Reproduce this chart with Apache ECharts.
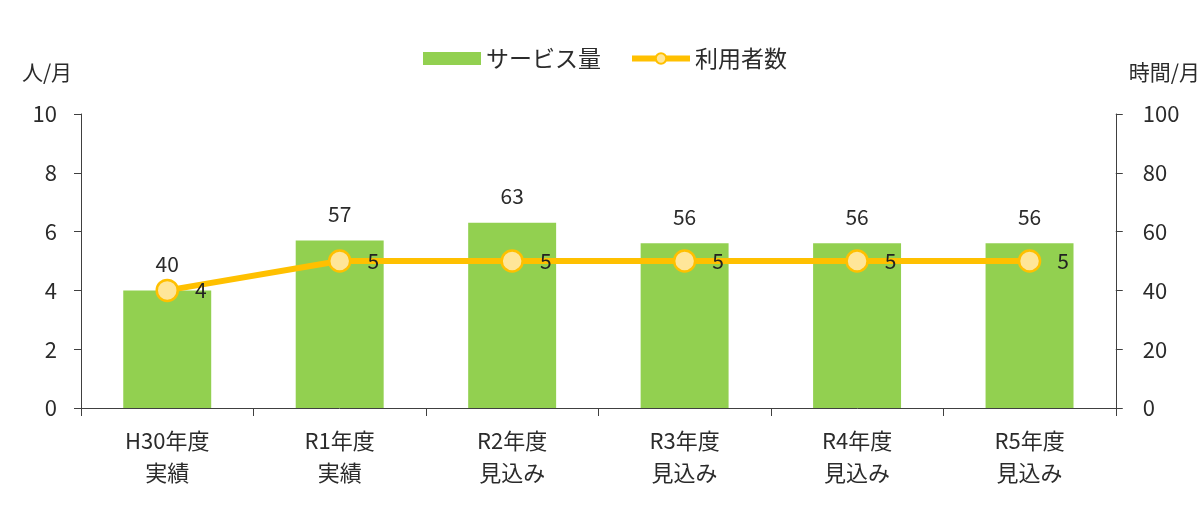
<!DOCTYPE html>
<html><head><meta charset="utf-8">
<script src="https://cdn.jsdelivr.net/npm/echarts@6/dist/echarts.min.js"></script>
<style>html,body{margin:0;padding:0;background:#fff}#c{width:1203px;height:507px}</style>
</head><body><div id="c"></div>
<script>
const categories = ['H30年度\n実績','R1年度\n実績','R2年度\n見込み','R3年度\n見込み','R4年度\n見込み','R5年度\n見込み'];
const serviceAmount = [40, 57, 63, 56, 56, 56];
const users = [4, 5, 5, 5, 5, 5];
const leftTicks = {min:0, max:10, interval:2};
const rightTicks = {min:0, max:100, interval:20};

const font = '"Noto Sans CJK JP", "Noto Sans", sans-serif';
const chart = echarts.init(document.getElementById('c'));
chart.setOption({
  backgroundColor:'#fff',
  textStyle:{fontFamily:font},
  legend:{
    top:42, left:418, itemWidth:58, itemHeight:13, itemGap:28,
    textStyle:{fontSize:23, color:'#2b2b2b', fontFamily:font},
    data:[{name:'サービス量', icon:'rect'},
          {name:'利用者数', lineStyle:{width:6, color:'#FFC000'}}]
  },
  grid:{left:81, right:86, top:114, bottom:99},
  xAxis:{
    type:'category', data:categories,
    axisLine:{lineStyle:{color:'#404040', width:1}},
    axisTick:{show:true, length:8, lineStyle:{color:'#404040'}},
    axisLabel:{fontSize:22, color:'#2b2b2b', lineHeight:32, margin:17, fontFamily:font}
  },
  yAxis:[{
    type:'value', min:leftTicks.min, max:leftTicks.max, interval:leftTicks.interval,
    name:'人/月', nameLocation:'end', nameGap:31,
    nameTextStyle:{fontSize:21, color:'#2b2b2b', align:'center', padding:[0,68,0,0], fontFamily:font},
    axisLine:{show:true, lineStyle:{color:'#404040'}},
    axisTick:{show:true, length:7, lineStyle:{color:'#404040'}},
    axisLabel:{fontSize:22, color:'#2b2b2b', margin:24, fontFamily:font},
    splitLine:{show:false}
  },{
    type:'value', min:rightTicks.min, max:rightTicks.max, interval:rightTicks.interval,
    name:'時間/月', nameLocation:'end', nameGap:31,
    nameTextStyle:{fontSize:21, color:'#2b2b2b', align:'left', padding:[0,0,0,13], fontFamily:font},
    axisLine:{show:true, lineStyle:{color:'#404040'}},
    axisTick:{show:true, length:7, lineStyle:{color:'#404040'}},
    axisLabel:{fontSize:22, color:'#2b2b2b', margin:27, fontFamily:font},
    splitLine:{show:false}
  }],
  series:[{
    name:'サービス量', type:'bar', yAxisIndex:1, data:serviceAmount,
    barWidth:'51%', itemStyle:{color:'#92D050'},
    label:{show:true, position:'top', distance:16, fontSize:21, color:'#2b2b2b', fontFamily:font}
  },{
    name:'利用者数', type:'line', yAxisIndex:0, data:users,
    lineStyle:{color:'#FFC000', width:6},
    symbol:'circle', symbolSize:21,
    itemStyle:{color:'#FFE699', borderColor:'#FFC000', borderWidth:2.5},
    label:{show:true, position:'right', distance:16, fontSize:21, color:'#222', fontFamily:font},
    z:5
  }]
});
</script></body></html>
